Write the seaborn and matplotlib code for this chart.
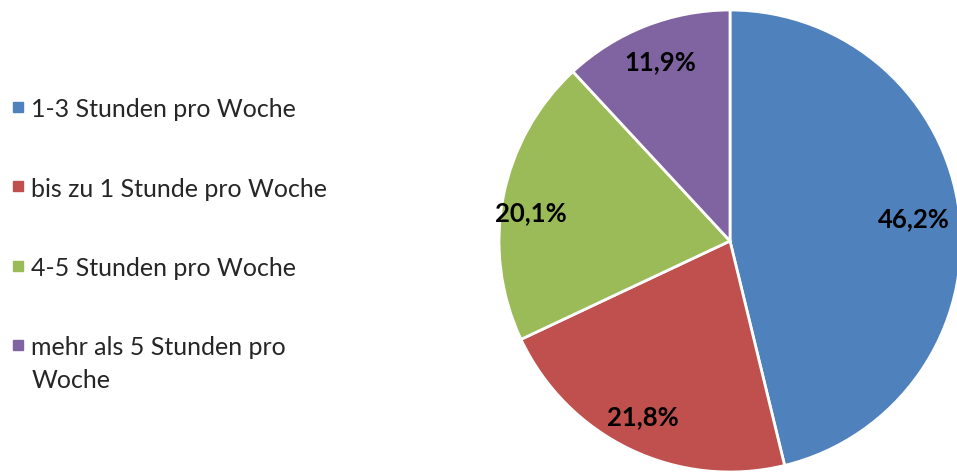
import matplotlib
matplotlib.use('Agg')
import matplotlib.pyplot as plt
from matplotlib.lines import Line2D
import numpy as np
import seaborn as sns

sns.set_style('white')
plt.rcParams['font.family'] = ['Lato', 'DejaVu Sans']

# Data
categories = ['1-3 Stunden pro Woche', 'bis zu 1 Stunde pro Woche',
              '4-5 Stunden pro Woche', 'mehr als 5 Stunden pro\nWoche']
shares = [46.2, 21.8, 20.1, 11.9]
pct_labels = ['46,2%', '21,8%', '20,1%', '11,9%']
colors = ['#4F81BD', '#C0504D', '#9BBB59', '#8064A2']

# label placement (radius fraction, angle nudge in degrees) - "best fit" look
label_dist = [0.80, 0.85, 0.87, 0.83]
label_nudge = [0.0, -0.7, 3.0, 0.0]

W, H = 957, 473
fig = plt.figure(figsize=(W / 100, H / 100), dpi=100)

# pie centre / radius in pixels
cx, cy, r = 730, 241, 231
ax = fig.add_axes([(cx - r) / W, (H - cy - r) / H, 2 * r / W, 2 * r / H])
wedges, _ = ax.pie(shares, colors=colors, startangle=90, counterclock=False,
                   wedgeprops=dict(edgecolor='white', linewidth=2), radius=1)
ax.set_xlim(-1, 1)
ax.set_ylim(-1, 1)
ax.set_aspect('equal')
ax.axis('off')

for w, txt, d, nd in zip(wedges, pct_labels, label_dist, label_nudge):
    ang = np.deg2rad((w.theta1 + w.theta2) / 2 + nd)
    ax.text(d * np.cos(ang), d * np.sin(ang), txt, ha='center', va='center',
            fontsize=18.5, fontweight='bold', color='black')

handles = [Line2D([], [], marker='s', linestyle='none', markersize=7,
                  markerfacecolor=c, markeredgecolor=c) for c in colors]
leg = fig.legend(handles, categories, loc='upper left', bbox_to_anchor=(0.0, 0.816),
                 frameon=False, fontsize=18, handlelength=0.5, handletextpad=0.3,
                 labelspacing=2.25, borderaxespad=0.05)
for t in leg.get_texts():
    t.set_linespacing(1.5)

# keep the marker of the wrapped entry level with its first line
for col in leg._legend_handle_box.get_children():
    for item in col.get_children():
        item.align = 'top'

fig.savefig('out.png', dpi=100)
